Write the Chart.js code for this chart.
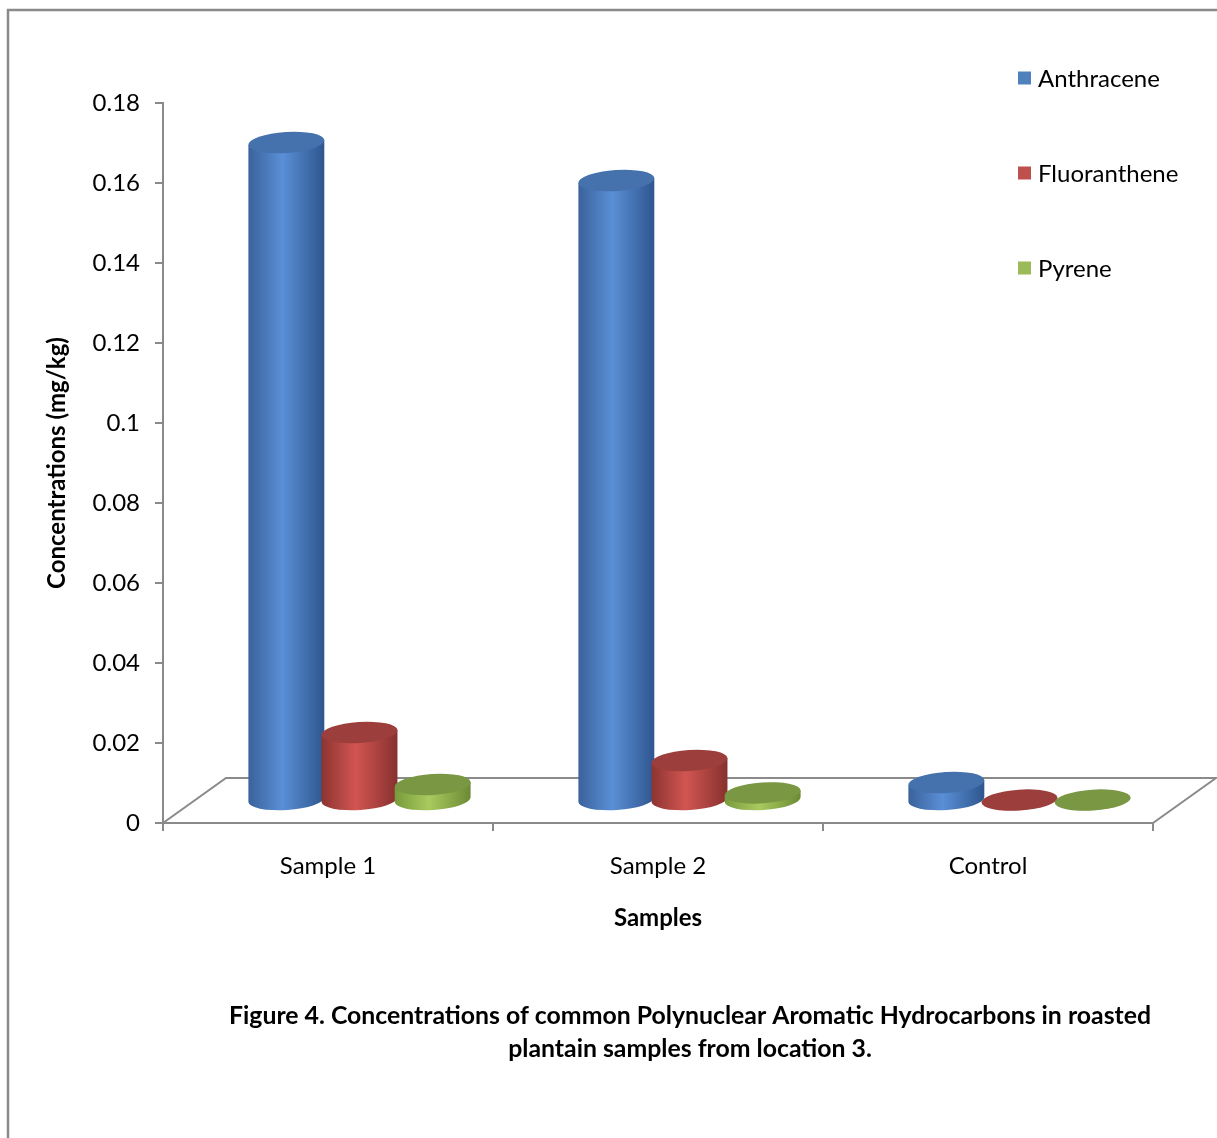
<!DOCTYPE html>
<html>
<head>
<meta charset="utf-8">
<title>Polynuclear Aromatic Hydrocarbons – location 3</title>
<script src="https://cdn.jsdelivr.net/npm/chart.js@4.4.1/dist/chart.umd.min.js"></script>
<style>
  html, body { margin: 0; padding: 0; background: #fff; overflow: hidden; }
  canvas { display: block; }
</style>
</head>
<body>
<canvas id="chart" width="1217" height="1138"></canvas>
<script>
// ---- data ----
const categories = ['Sample 1', 'Sample 2', 'Control'];
const seriesNames = ['Anthracene', 'Fluoranthene', 'Pyrene'];
const anthracene = [0.1645, 0.155, 0.0045];
const fluoranthene = [0.017, 0.010, 0.0001];
const pyrene = [0.004, 0.0019, 0.0001];
const yTickValues = [0, 0.02, 0.04, 0.06, 0.08, 0.1, 0.12, 0.14, 0.16, 0.18];
const yTitle = 'Concentrations (mg/kg)';
const xTitle = 'Samples';
const captionLines = [
  'Figure 4. Concentrations of common Polynuclear Aromatic Hydrocarbons in roasted',
  'plantain samples from location 3.'
];

// ---- styles ----
const FONT = 'Lato, "Open Sans", "DejaVu Sans", sans-serif';
const FONT_SIZE = 24;
const GREY = '#8a8a8a';
const legendColours = ['#4f81bd', '#c0504d', '#9bbb59'];
const cylinderShades = [
  { left: '#3a629b', mid: '#5a8fd6', right: '#2e568f', top: '#4571ad' },
  { left: '#8c3431', mid: '#d25552', right: '#86312e', top: '#9c3f3c' },
  { left: '#789a3b', mid: '#a9ca5e', right: '#6c8a34', top: '#7a9744' }
];
const DEPTH_X = 63;   // floor depth, horizontal component
const DEPTH_Y = 45;   // floor depth, vertical component
const TILT = -0.065;  // slight rotation of the elliptical caps
const CAPTION_WIDTH = 922;

const seriesValues = [anthracene, fluoranthene, pyrene];

// floor outline drawn behind the cylinders
const floorPlugin = {
  id: 'floor',
  beforeDatasetsDraw(chart) {
    const { ctx, chartArea: a } = chart;
    ctx.save();
    ctx.strokeStyle = GREY;
    ctx.lineWidth = 2;
    ctx.beginPath();
    ctx.moveTo(a.left, a.bottom);
    ctx.lineTo(a.left + DEPTH_X, a.bottom - DEPTH_Y);
    ctx.lineTo(a.right + DEPTH_X, a.bottom - DEPTH_Y);
    ctx.lineTo(a.right, a.bottom);
    ctx.stroke();
    ctx.restore();
  }
};

// each bar element is drawn as a shaded cylinder standing mid-depth on the floor
const cylinderPlugin = {
  id: 'cylinders',
  afterDatasetsDraw(chart) {
    const ctx = chart.ctx;
    const cosT = Math.cos(TILT), sinT = Math.sin(TILT);
    chart.data.datasets.forEach((ds, di) => {
      const shade = cylinderShades[di];
      chart.getDatasetMeta(di).data.forEach(el => {
        const p = el.getProps(['x', 'y', 'base', 'width'], true);
        const cx = p.x + DEPTH_X / 2;
        const yt = p.y - DEPTH_Y / 2;
        const yb = p.base - DEPTH_Y / 2;
        const rx = p.width / 2 * 1.04;
        const ry = rx * 0.275;
        ctx.save();
        const g = ctx.createLinearGradient(cx - rx, 0, cx + rx, 0);
        g.addColorStop(0, shade.left);
        g.addColorStop(0.45, shade.mid);
        g.addColorStop(1, shade.right);
        ctx.fillStyle = g;
        ctx.beginPath();
        ctx.moveTo(cx - rx * cosT, yt - rx * sinT);
        ctx.lineTo(cx - rx * cosT, yb - rx * sinT);
        ctx.ellipse(cx, yb, rx, ry, TILT, Math.PI, 0, true);
        ctx.lineTo(cx + rx * cosT, yt + rx * sinT);
        ctx.closePath();
        ctx.fill();
        ctx.beginPath();
        ctx.ellipse(cx, yt, rx, ry, TILT, 0, Math.PI * 2);
        ctx.fillStyle = shade.top;
        ctx.fill();
        ctx.restore();
      });
    });
  }
};

// legend, caption and outer frame
const decorPlugin = {
  id: 'decor',
  afterDraw(chart) {
    const ctx = chart.ctx;
    ctx.save();
    // frame
    ctx.strokeStyle = GREY;
    ctx.lineWidth = 2.5;
    ctx.beginPath();
    ctx.moveTo(8, chart.height);
    ctx.lineTo(8, 10);
    ctx.lineTo(chart.width, 10);
    ctx.stroke();

    // legend
    ctx.font = FONT_SIZE + 'px ' + FONT;
    ctx.textBaseline = 'middle';
    ctx.textAlign = 'left';
    chart.data.datasets.forEach((ds, i) => {
      const y = 78 + i * 95;
      ctx.fillStyle = legendColours[i];
      ctx.fillRect(1018, y - 6.5, 13, 13);
      ctx.fillStyle = '#000';
      ctx.fillText(ds.label, 1038, y + 1);
    });

    // caption, set in a slightly condensed bold face
    ctx.font = 'bold ' + FONT_SIZE + 'px ' + FONT;
    ctx.textAlign = 'center';
    const sx = CAPTION_WIDTH / ctx.measureText(captionLines[0]).width;
    captionLines.forEach((line, i) => {
      ctx.save();
      ctx.translate(690, 1016 + i * 33);
      ctx.scale(sx, 1);
      ctx.fillText(line, 0, 0);
      ctx.restore();
    });
    ctx.restore();
  }
};

const fmt = v => String(parseFloat(Number(v).toFixed(4)));

new Chart(document.getElementById('chart'), {
  type: 'bar',
  data: {
    labels: categories,
    datasets: seriesNames.map((name, i) => ({
      label: name,
      data: seriesValues[i],
      backgroundColor: 'rgba(0,0,0,0)',
      borderWidth: 0,
      categoryPercentage: 0.665,
      barPercentage: 1
    }))
  },
  options: {
    responsive: false,
    devicePixelRatio: 1,
    animation: false,
    layout: { padding: { left: 20, right: 64, top: 103, bottom: 205 } },
    plugins: {
      legend: { display: false },
      tooltip: { enabled: false }
    },
    scales: {
      x: {
        afterFit: s => { s.height = 110; },
        grid: { display: true, drawOnChartArea: false, drawTicks: true, tickLength: 8, color: GREY, lineWidth: 2, offset: true },
        border: { display: true, color: GREY, width: 2 },
        ticks: { color: '#000', font: { family: FONT, size: FONT_SIZE }, padding: 21 },
        title: { display: true, text: xTitle, color: '#000', font: { family: FONT, size: FONT_SIZE, weight: 'bold' }, padding: { top: 0, bottom: 0 } }
      },
      y: {
        min: 0,
        max: 0.18,
        afterFit: s => { s.width = 143; },
        afterBuildTicks: s => { s.ticks = yTickValues.map(v => ({ value: v })); },
        grid: { display: true, drawOnChartArea: false, drawTicks: true, tickLength: 8, color: GREY, lineWidth: 2 },
        border: { display: true, color: GREY, width: 2 },
        ticks: { color: '#000', font: { family: FONT, size: FONT_SIZE }, padding: 15, callback: v => fmt(v) },
        title: { display: true, text: yTitle, color: '#000', font: { family: FONT, size: FONT_SIZE, weight: 'bold' }, padding: { top: 23, bottom: 0 } }
      }
    }
  },
  plugins: [floorPlugin, cylinderPlugin, decorPlugin]
});
</script>
</body>
</html>
